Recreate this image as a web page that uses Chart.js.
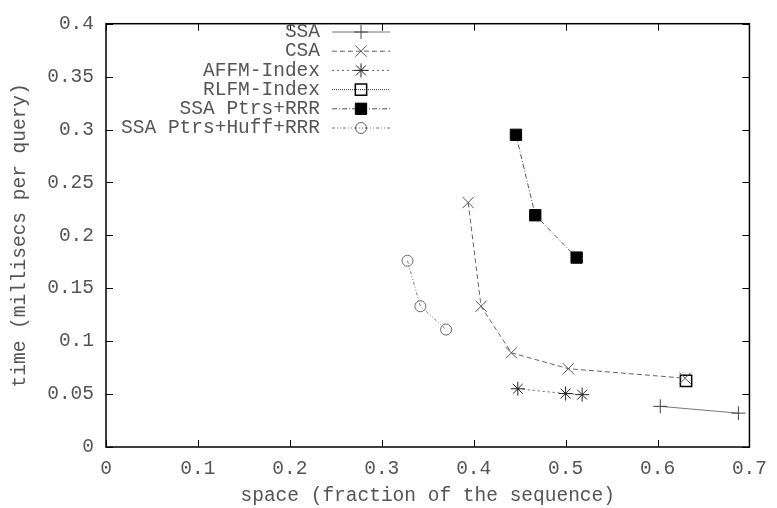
<!DOCTYPE html>
<html>
<head>
<meta charset="utf-8">
<script src="https://cdn.jsdelivr.net/npm/chart.js@4"></script>
<style>
  html, body { margin: 0; padding: 0; background: #fff; }
  #wrap { width: 777px; height: 508px; }
</style>
</head>
<body>
<div id="wrap"><canvas id="grafica" width="777" height="508"></canvas></div>
<script>
var seriesNames = ["SSA", "CSA", "AFFM-Index", "RLFM-Index", "SSA Ptrs+RRR", "SSA Ptrs+Huff+RRR"];
var ssaX = [0.603, 0.688];
var ssaY = [0.0384, 0.032];
var csaX = [0.394, 0.408, 0.441, 0.503, 0.630];
var csaY = [0.231, 0.133, 0.089, 0.074, 0.065];
var affmX = [0.448, 0.500, 0.518];
var affmY = [0.055, 0.0505, 0.0495];
var rlfmX = [0.631];
var rlfmY = [0.0625];
var rrrX = [0.446, 0.467, 0.512];
var rrrY = [0.295, 0.219, 0.179];
var huffX = [0.328, 0.342, 0.370];
var huffY = [0.176, 0.133, 0.111];

function pts(xs, ys) {
    return xs.map(function (x, i) { return { x: x, y: ys[i] }; });
}

// gnuplot style labels: 0.4, 0.35, 0
function fmt(v) {
    return String(parseFloat(v.toFixed(2)));
}

var FONT = "'Liberation Mono', 'DejaVu Sans Mono', monospace";
var TEXT = '#555';

// frame with inward ticks + gnuplot-like legend (text right aligned, sample line with marker)
var legendPlugin = {
    id: 'gnuLegend',
    afterDraw: function (chart) {
        var c = chart.ctx;
        var area = chart.chartArea;
        c.save();
        c.strokeStyle = '#000';
        c.lineWidth = 1.5;
        c.setLineDash([]);
        c.strokeRect(area.left, area.top, area.right - area.left, area.bottom - area.top);
        var xs = chart.scales.x, ys = chart.scales.y;
        c.lineWidth = 1;
        xs.ticks.forEach(function (t) {
            var px = Math.round(xs.getPixelForValue(t.value)) + 0.5;
            c.beginPath();
            c.moveTo(px, area.bottom); c.lineTo(px, area.bottom - 7);
            c.moveTo(px, area.top); c.lineTo(px, area.top + 7);
            c.stroke();
        });
        ys.ticks.forEach(function (t) {
            var py = Math.round(ys.getPixelForValue(t.value)) + 0.5;
            c.beginPath();
            c.moveTo(area.left, py); c.lineTo(area.left + 7, py);
            c.moveTo(area.right, py); c.lineTo(area.right - 7, py);
            c.stroke();
        });
        c.font = '19.5px ' + FONT;
        c.textAlign = 'right';
        c.textBaseline = 'middle';
        chart.data.datasets.forEach(function (ds, i) {
            var y = 32 + i * 19.2;
            c.fillStyle = TEXT;
            c.fillText(ds.label, 320, y);
            c.strokeStyle = ds.borderColor;
            c.lineWidth = 1;
            c.setLineDash(ds.borderDash || []);
            c.beginPath();
            c.moveTo(332, y); c.lineTo(390, y);
            c.stroke();
            c.setLineDash([]);
            c.fillStyle = ds.pointBackgroundColor;
            c.strokeStyle = ds.pointBorderColor;
            c.lineWidth = ds.pointBorderWidth || 1;
            Chart.helpers.drawPoint(c, {
                pointStyle: ds.pointStyle,
                radius: ds.pointRadius,
                borderWidth: ds.pointBorderWidth || 1
            }, 361, y);
        });
        c.restore();
    }
};

var ctx = document.getElementById("grafica").getContext('2d');
var grafica = new Chart(ctx, {
    type: 'scatter',
    data: {
        datasets: [{
            label: seriesNames[0],
            data: pts(ssaX, ssaY),
            showLine: true,
            borderColor: '#777', borderWidth: 1, borderDash: [],
            pointStyle: 'cross', pointRadius: 7,
            pointBorderColor: '#444', pointBackgroundColor: '#444', pointBorderWidth: 1
        }, {
            label: seriesNames[1],
            data: pts(csaX, csaY),
            showLine: true,
            borderColor: '#666', borderWidth: 1, borderDash: [5, 3],
            pointStyle: 'crossRot', pointRadius: 8,
            pointBorderColor: '#555', pointBackgroundColor: '#555', pointBorderWidth: 1
        }, {
            label: seriesNames[2],
            data: pts(affmX, affmY),
            showLine: true,
            borderColor: '#666', borderWidth: 1, borderDash: [2, 3],
            pointStyle: 'star', pointRadius: 7,
            pointBorderColor: '#222', pointBackgroundColor: '#222', pointBorderWidth: 1
        }, {
            label: seriesNames[3],
            data: pts(rlfmX, rlfmY),
            showLine: true,
            borderColor: '#333', borderWidth: 1, borderDash: [1, 1],
            pointStyle: 'rect', pointRadius: 8,
            pointBorderColor: '#000', pointBackgroundColor: 'rgba(0,0,0,0)', pointBorderWidth: 1.5
        }, {
            label: seriesNames[4],
            data: pts(rrrX, rrrY),
            showLine: true,
            borderColor: '#555', borderWidth: 1, borderDash: [5, 2, 1, 2],
            pointStyle: 'rect', pointRadius: 8,
            pointBorderColor: '#000', pointBackgroundColor: '#000', pointBorderWidth: 1
        }, {
            label: seriesNames[5],
            data: pts(huffX, huffY),
            showLine: true,
            borderColor: '#777', borderWidth: 1, borderDash: [3, 2, 1, 2, 1, 2],
            pointStyle: 'circle', pointRadius: 5.5,
            pointBorderColor: '#666', pointBackgroundColor: 'rgba(0,0,0,0)', pointBorderWidth: 1
        }]
    },
    options: {
        responsive: false,
        animation: false,
        layout: { padding: { top: 13, right: 25, left: 0, bottom: 0 } },
        plugins: {
            legend: { display: false },
            tooltip: { enabled: false }
        },
        scales: {
            x: {
                type: 'linear', min: 0, max: 0.7,
                border: { display: false },
                grid: { display: false, drawTicks: false },
                ticks: {
                    stepSize: 0.1, padding: 10, color: TEXT, font: { family: FONT, size: 19.5 },
                    callback: function (v) { return fmt(v); }
                },
                title: {
                    display: true, text: 'space (fraction of the sequence)', color: TEXT,
                    font: { family: FONT, size: 19.5 }, padding: { top: 4, bottom: 0 }
                },
                afterFit: function (s) { s.height = 61; }
            },
            y: {
                type: 'linear', min: 0, max: 0.4,
                border: { display: false },
                grid: { display: false, drawTicks: false },
                ticks: {
                    stepSize: 0.05, padding: 12, color: TEXT, font: { family: FONT, size: 19.5 },
                    callback: function (v) { return fmt(v); }
                },
                title: {
                    display: true, text: 'time (millisecs per query)', color: TEXT,
                    font: { family: FONT, size: 19.5 }, padding: { top: 8, bottom: 0 }
                },
                afterFit: function (s) { s.width = 106; }
            }
        }
    },
    plugins: [legendPlugin]
});
</script>
</body>
</html>
